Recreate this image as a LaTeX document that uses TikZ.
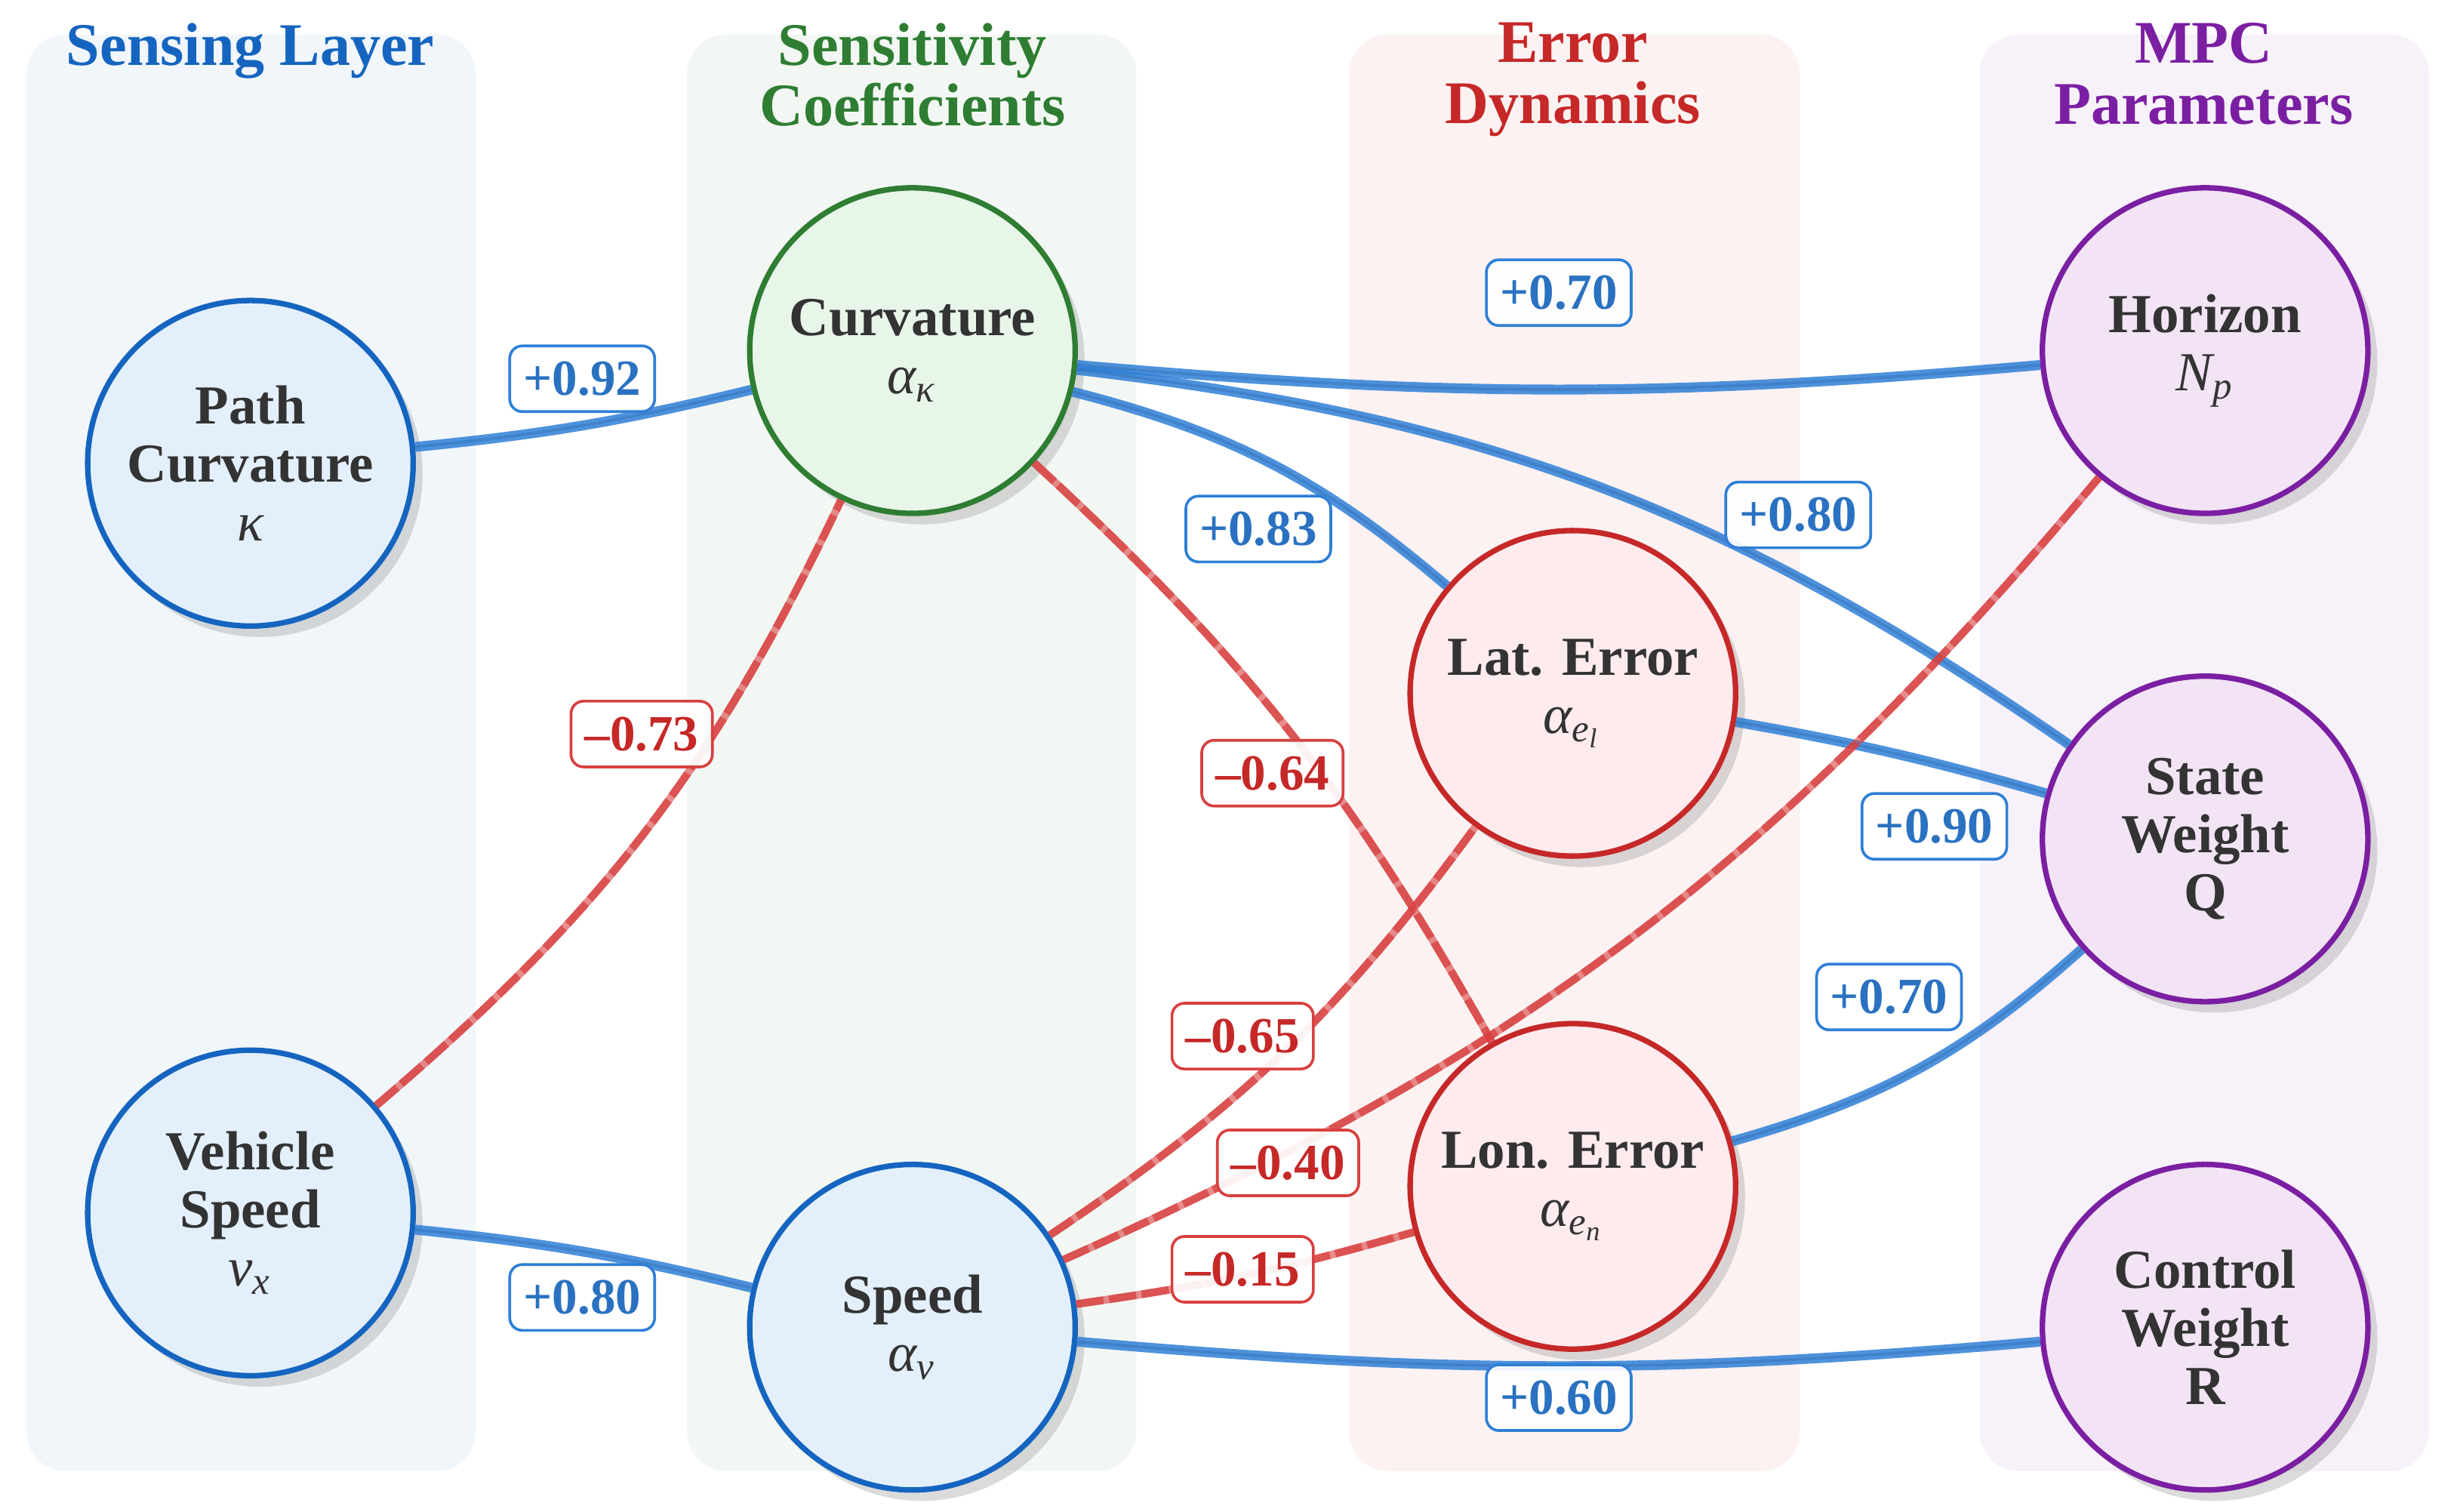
\documentclass[tikz,border=0pt]{standalone}
\usepackage{fontspec}
\setmainfont{Liberation Serif}
\usepackage{tikz}
\usetikzlibrary{shadows}

\definecolor{sensblue}{HTML}{1565C0}
\definecolor{sensgreen}{HTML}{2E7D32}
\definecolor{errred}{HTML}{C62828}
\definecolor{mpcpurple}{HTML}{7B1FA2}
\definecolor{posline}{HTML}{2F7FD6}
\definecolor{negline}{HTML}{D84040}
\definecolor{nodetext}{HTML}{333333}
\definecolor{blue50}{HTML}{E3F0FC}
\definecolor{green50}{HTML}{E8F5E9}
\definecolor{red50}{HTML}{FDEBEE}
\definecolor{purple50}{HTML}{F2E4F5}

\tikzset{
    panel/.style={rounded corners=2.5mm},
    title/.style={anchor=north, align=center, inner sep=0pt, font=\bfseries\fontsize{11}{11.1}\selectfont},
    var/.style={circle, minimum size=20.8mm, inner sep=0pt, line width=1pt, align=center, text=nodetext,
        font=\bfseries\fontsize{10}{10.6}\selectfont,
        drop shadow={shadow xshift=0.6mm, shadow yshift=-0.7mm, fill=black!40, opacity=0.35}},
    bluevar/.style={var, draw=sensblue, fill=blue50},
    greenvar/.style={var, draw=sensgreen, fill=green50},
    redvar/.style={var, draw=errred, fill=red50},
    purplevar/.style={var, draw=mpcpurple, fill=purple50},
    posedge/.style={posline, line width=1.8pt, opacity=0.85,
        postaction={draw, posline!80!black, line width=0.5pt, opacity=0.35}},
    negedge/.style={negline, line width=1.4pt, opacity=0.6,
        postaction={draw, negline, line width=1.4pt, opacity=0.75, dash pattern=on 5pt off 1pt}},
    coef/.style={rounded corners=0.8mm, fill=white, fill opacity=0.92, text opacity=1, line width=0.5pt,
        inner xsep=2.5pt, inner ysep=0pt, minimum height=4.2mm, font=\bfseries\fontsize{9.2}{10}\selectfont},
    poscoef/.style={coef, draw=posline, text=posline!90!black},
    negcoef/.style={coef, draw=negline, text=errred}
}

\newcommand{\sym}[1]{{\mdseries\itshape #1}}

\begin{document}
\begin{tikzpicture}[x=0.1mm, y=-0.1mm]
        \useasboundingbox (0,0) rectangle (1568,966);

        \fill[panel, sensblue!6] (17,22) rectangle (304,940);
        \fill[panel, sensgreen!6] (439,22) rectangle (726,940);
        \fill[panel, errred!6] (862,22) rectangle (1150,940);
        \fill[panel, mpcpurple!6] (1265,22) rectangle (1552,940);

        \node[title, text=sensblue] (tsens) at (160,14) {Sensing Layer};
        \node[title, text=sensgreen] (tcoef) at (583,14) {Sensitivity\\Coefficients};
        \node[title, text=errred] (terr) at (1005,14) {Error\\Dynamics};
        \node[title, text=mpcpurple] (tmpc) at (1408,14) {MPC\\Parameters};

        \node[bluevar] (pathk) at (160,296) {Path\\Curvature\\\sym{κ}};
        \node[bluevar] (vspeed) at (160,775) {Vehicle\\Speed\\\sym{v\textsubscript{x}}};
        \node[greenvar] (curv) at (583,224) {Curvature\\\sym{α\textsubscript{κ}}};
        \node[bluevar] (speed) at (583,848) {Speed\\\sym{α\textsubscript{v}}};
        \node[redvar] (laterr) at (1005,443) {Lat. Error\\\sym{α\textsubscript{e\textsubscript{l}}}};
        \node[redvar] (lonerr) at (1005,758) {Lon. Error\\\sym{α\textsubscript{e\textsubscript{n}}}};
        \node[purplevar] (horizon) at (1409,224) {Horizon\\\sym{N\textsubscript{p}}};
        \node[purplevar] (stateq) at (1409,536) {State\\Weight\\Q};
        \node[purplevar] (controlr) at (1409,848) {Control\\Weight\\R};

        \draw[posedge] (pathk) to[bend right=4] (curv);
        \draw[posedge] (vspeed) to[bend left=4] (speed);
        \draw[posedge] (curv) to[bend right=5] (horizon);
        \draw[posedge] (curv) to[bend left=13] (laterr);
        \draw[posedge] (curv) to[bend left=14] (stateq);
        \draw[posedge] (laterr) to[bend left=3] (stateq);
        \draw[posedge] (lonerr) to[bend right=13] (stateq);
        \draw[posedge] (speed) to[bend right=5] (controlr);
        \draw[negedge] (vspeed) to[bend right=12] (curv);
        \draw[negedge] (curv) to[bend left=9] (lonerr);
        \draw[negedge] (speed) to[bend right=10] (laterr);
        \draw[negedge] (speed) to[bend right=13] (horizon);
        \draw[negedge] (speed) to[bend right=4] (lonerr);

        \node[poscoef] (wpk) at (372,242) {+0.92};
        \node[poscoef] (wvs) at (372,829) {+0.80};
        \node[poscoef] (wch) at (996,187) {+0.70};
        \node[poscoef] (wcl) at (804,338) {+0.83};
        \node[poscoef] (wcq) at (1149,329) {+0.80};
        \node[poscoef] (wlq) at (1236,528) {+0.90};
        \node[poscoef] (wnq) at (1207,637) {+0.70};
        \node[poscoef] (wsr) at (996,893) {+0.60};
        \node[negcoef] (wvc) at (410,469) {–0.73};
        \node[negcoef] (wcn) at (813,494) {–0.64};
        \node[negcoef] (wsl) at (794,662) {–0.65};
        \node[negcoef] (wsh) at (823,743) {–0.40};
        \node[negcoef] (wsn) at (794,811) {–0.15};
    \end{tikzpicture}
\end{document}
